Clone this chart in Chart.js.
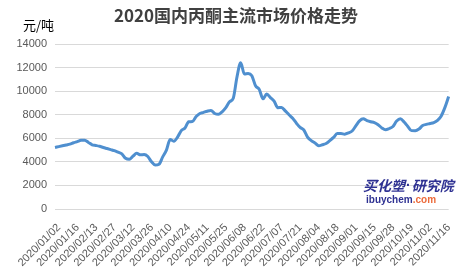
<!DOCTYPE html>
<html>
<head>
<meta charset="utf-8">
<script src="https://cdn.jsdelivr.net/npm/chart.js@4"></script>
<style>
html,body{margin:0;padding:0;background:#fff;}
#wrap{position:relative;width:470px;height:273px;}
</style>
</head>
<body>
<div id="wrap"><canvas id="c" width="470" height="273"></canvas></div>
<script>
const chartTitle = "2020国内丙酮主流市场价格走势";
const unitLabel = "元/吨";
const tickLabels = ["2020/01/02","2020/01/16","2020/02/13","2020/02/27","2020/03/12","2020/03/26","2020/04/10","2020/04/24","2020/05/11","2020/05/25","2020/06/08","2020/06/22","2020/07/07","2020/07/21","2020/08/04","2020/08/18","2020/09/01","2020/09/15","2020/09/28","2020/10/19","2020/11/02","2020/11/16"];
const labelEvery = 5;
const prices = [5220,5290,5360,5430,5500,5620,5720,5830,5840,5650,
5450,5390,5320,5220,5130,5040,4950,4820,4680,4300,
4215,4480,4720,4600,4620,4450,4000,3730,3800,4420,
5000,5900,5750,6100,6650,6880,7400,7420,7840,8100,
8200,8300,8360,8100,8030,8250,8600,9100,9400,11200,
12400,11450,11500,11300,10450,10150,9350,9750,9450,9150,
8600,8620,8320,8000,7700,7280,6920,6700,6100,5800,
5600,5370,5450,5560,5800,6070,6400,6400,6350,6450,
6620,7050,7480,7650,7500,7400,7330,7150,6880,6720,
6830,7000,7460,7650,7380,7000,6650,6640,6780,7080,
7180,7250,7330,7520,7900,8620,9550];
const categories = prices.map((v,i)=> i % labelEvery === 0 ? (tickLabels[i/labelEvery] || "") : "");

const decor = {
  id:'decor',
  afterDraw(chart){
    const ctx = chart.ctx;
    ctx.save();
    ctx.textBaseline='middle';
    ctx.fillStyle='#404040';
    ctx.textAlign='center';
    ctx.font='bold 17px "Noto Sans CJK SC"';
    ctx.fillText(chartTitle,236,16);
    ctx.fillStyle='#000';
    ctx.textAlign='left';
    ctx.font='13px "Noto Sans CJK SC"';
    ctx.fillText(unitLabel,23,25);
    ctx.fillStyle='#2e3192';
    ctx.font='italic bold 14px "Noto Sans CJK SC"';
    ctx.fillText("买化塑",363,186);
    let w1 = ctx.measureText("买化塑").width;
    ctx.font='bold 14px "Liberation Sans"';
    ctx.fillText("·",363+w1+1,186);
    let w2 = ctx.measureText("·").width;
    ctx.font='italic bold 14px "Noto Sans CJK SC"';
    ctx.fillText("研究院",363+w1+w2+2,186);
    ctx.font='bold 10px "Liberation Sans"';
    ctx.fillStyle='#2e3192';
    ctx.fillText("ibuychem",366,200);
    const w = ctx.measureText("ibuychem").width;
    ctx.fillStyle='#ec6a3a';
    ctx.fillText(".com",366+w,200);
    ctx.restore();
  }
};

new Chart(document.getElementById('c'),{
  type:'line',
  data:{labels:categories,datasets:[{data:prices,borderColor:'#4f8fcf',borderWidth:3,pointRadius:0,tension:0.3,cubicInterpolationMode:'monotone',fill:false}]},
  options:{
    responsive:false,animation:false,
    layout:{padding:{left:0,right:8,top:44,bottom:0}},
    plugins:{legend:{display:false},title:{display:false},tooltip:{enabled:false}},
    scales:{
      x:{
        grid:{display:false,drawTicks:false},
        border:{display:false},
        ticks:{autoSkip:false,maxRotation:45,minRotation:45,padding:12,labelOffset:4,color:'#595959',font:{family:'"Liberation Sans"',size:11},
          callback:function(v,i){return categories[i];}},
        afterFit(s){s.height=64;}
      },
      y:{
        min:0,max:14000,
        grid:{color:'#d9d9d9',drawTicks:false},
        border:{display:false},
        ticks:{stepSize:2000,padding:8,color:'#595959',font:{family:'"Liberation Sans"',size:11},
          callback:function(v){return String(v);}},
        afterFit(s){s.width=55;}
      }
    }
  },
  plugins:[decor]
});
</script>
</body>
</html>
